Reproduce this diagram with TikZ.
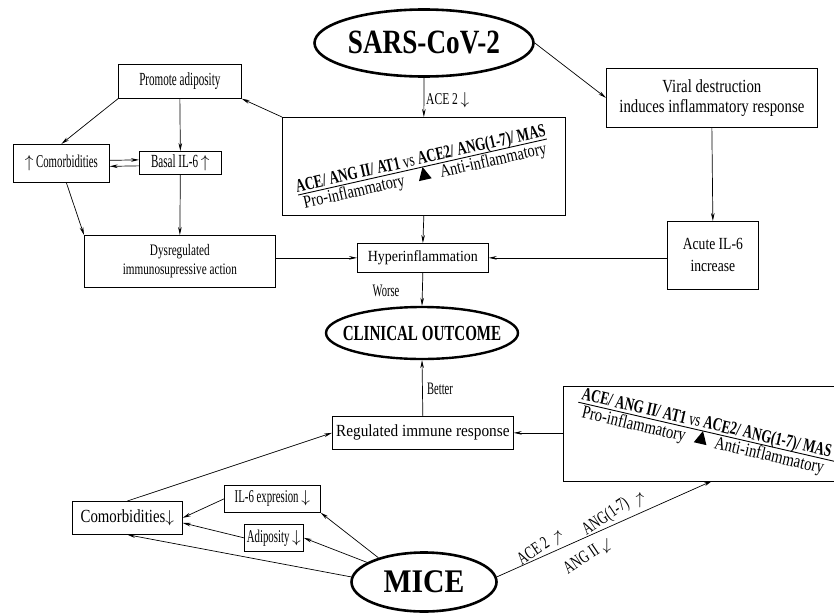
\documentclass[tikz,border=0pt]{standalone}
\usepackage{fontspec}
\setmainfont{Liberation Serif}
\newfontfamily\fsix[FakeStretch=0.6]{Liberation Serif}
\newfontfamily\fseven[FakeStretch=0.7]{Liberation Serif}
\newfontfamily\feight[FakeStretch=0.8]{Liberation Serif}
\newfontfamily\fnine[FakeStretch=0.9]{Liberation Serif}
\usetikzlibrary{shapes.geometric,arrows.meta}
\newcommand{\fz}[2]{\fontsize{#1pt}{#2pt}\selectfont}
\begin{document}
\begin{tikzpicture}[x=1pt,y=-1pt,
  box/.style={draw, line width=0.7pt, inner sep=1pt, align=center, anchor=north west},
  oval/.style={draw, ellipse, line width=2.6pt, inner sep=0pt},
  arr/.style={line width=0.7pt, -{Stealth[length=8pt,width=3.6pt]}},
  lab/.style={inner sep=0pt}]
\clip (0,0) rectangle (834,613);

% ---------- nodes ----------
\node[oval, minimum width=219pt, minimum height=67pt, font=\feight\bfseries\fz{34}{38}] (sars) at (424,43) {\makebox[0pt]{SARS-CoV-2}};
\node[box, minimum width=283pt, minimum height=98pt] (central) at (282,117) {};
\begin{scope}[shift={(422.5,167)}, rotate=12.7, transform shape]
  \draw[line width=0.9pt] (-127.5,0) -- (127.5,0);
  \fill (0,0) -- (-6.5,13) -- (6.5,13) -- cycle;
  \node[lab, anchor=base, font=\fseven\fz{18.5}{20}] (bal1) at (0,-3) {\textbf{ACE/ ANG II/ AT1} vs \textbf{ACE2/ ANG(1-7)/ MAS}};
  \node[lab, anchor=base west, font=\feight\fz{18}{20}] (pro1) at (-124,14.5) {Pro-inflammatory};
  \node[lab, anchor=base east, font=\feight\fz{18}{20}] (anti1) at (125,14.5) {Anti-inflammatory};
\end{scope}

\node[box, minimum width=123pt, minimum height=34pt, font=\fsix\fz{18.5}{20}] (promote) at (118,64) {Promote adiposity};
\node[box, minimum width=96pt, minimum height=38pt, font=\fsix\fz{18}{20}] (comorb) at (13,144) {$\uparrow$ Comorbidities};
\node[box, minimum width=82pt, minimum height=23pt, font=\fsix\fz{18.5}{20}] (basal) at (139,151) {Basal IL-6 $\uparrow$};
\node[box, minimum width=191pt, minimum height=52pt, font=\fseven\fz{16}{19}] (dysreg) at (84,235) {Dysregulated\\immunosupressive action};
\node[box, minimum width=211pt, minimum height=59pt, font=\feight\fz{18.5}{20}] (viral) at (606,68) {Viral destruction\\induces inflammatory response};
\node[box, minimum width=131pt, minimum height=29pt, font=\fnine\fz{15.5}{18}] (hyper) at (357,243) {Hyperinflammation};
\node[box, minimum width=91pt, minimum height=68pt, font=\feight\fz{17}{22}] (acute) at (667,221) {Acute IL-6\\increase};
\node[oval, line width=2.4pt, minimum width=192pt, minimum height=52pt, font=\fseven\bfseries\fz{21.5}{24}] (clin) at (422,333) {\makebox[0pt]{CLINICAL OUTCOME}};
\node[box, minimum width=181pt, minimum height=33pt, font=\fnine\fz{17}{19}] (reg) at (332,416) {Regulated immune response};

\node[box, minimum width=290pt, minimum height=95pt] (rbox) at (563,386) {};
\begin{scope}[shift={(703,431)}, rotate=-13, transform shape]
  \draw[line width=0.9pt] (-128,0) -- (200,0);
  \fill (0,0) -- (-6.5,13) -- (6.5,13) -- cycle;
  \node[lab, anchor=base west, font=\fseven\fz{18.5}{20}] (bal2) at (-126,-3) {\textbf{ACE/ ANG II/ AT1} vs \textbf{ACE2/ ANG(1-7)/ MAS}};
  \node[lab, anchor=base west, font=\feight\fz{18.5}{20}] (pro2) at (-122,14.5) {Pro-inflammatory};
  \node[lab, anchor=base west, font=\feight\fz{18.5}{20}] (anti2) at (14,14.5) {Anti-inflammatory};
\end{scope}

\node[box, minimum width=110pt, minimum height=33pt, font=\feight\fz{18.5}{20}] (comorb2) at (72,501) {Comorbidities$\downarrow$};
\node[box, minimum width=96pt, minimum height=27pt, font=\fsix\fz{18}{20}] (il6) at (224,485) {IL-6 expresion $\downarrow$};
\node[box, minimum width=59pt, minimum height=27pt, font=\fsix\fz{18}{20}] (adip) at (244,524) {Adiposity $\downarrow$};
\node[oval, minimum width=145pt, minimum height=59pt, font=\fnine\bfseries\fz{33}{36}] (mice) at (424,582) {\makebox[0pt]{MICE}};
\coordinate (rbtip) at (712,481);

% ---------- labels ----------
\node[lab, anchor=west, font=\fseven\fz{16.5}{18}] (acelab) at (426,100) {ACE 2\,$\downarrow$};
\node[lab, font=\fsix\fz{17.5}{19}] (worse) at (386,291) {Worse};
\node[lab, font=\fsix\fz{17.5}{19}] (better) at (440,389) {Better};
\node[lab, rotate=34, font=\fseven\fz{18}{20}] (l1) at (533,551) {ACE 2};
\node[lab, font=\fseven\fz{18}{20}] (l1a) at (558,538) {$\uparrow$};
\node[lab, rotate=34, font=\fseven\fz{18}{20}] (l2) at (606,517) {ANG(1-7)};
\node[lab, font=\fseven\fz{18}{20}] (l2a) at (640,500) {$\uparrow$};
\node[lab, rotate=34, font=\fseven\fz{18}{20}] (l3) at (581,559) {ANG II};
\node[lab, font=\fseven\fz{18}{20}] (l3a) at (607,546) {$\downarrow$};

% ---------- connectors ----------
\draw[arr] (sars.south) -- (central.north);
\draw[arr] (sars.east) -- (viral.west);
\draw[arr] (central.north west) -- (promote.south east);
\draw[arr] (promote.south west) -- (comorb.north);
\draw[arr] (promote.south) -- (basal.north);
\draw[arr] ([yshift=3pt]comorb.east) -- ([yshift=3pt]basal.west);
\draw[arr] ([yshift=-3pt]basal.west) -- ([yshift=-3pt]comorb.east);
\draw[arr] ([xshift=5pt]comorb.south) -- (dysreg.north west);
\draw[arr] (basal.south) -- (dysreg.north);
\draw[arr] (dysreg.east |- hyper.west) -- (hyper.west);
\draw[arr] (central.south) -- (hyper.north);
\draw[arr] (viral.south) -- (acute.north);
\draw[arr] (acute.west |- hyper.east) -- (hyper.east);
\draw[arr] (hyper.south) -- (clin.north);
\draw[arr] (reg.north) -- (clin.south);
\draw[arr] (rbox.west |- reg.east) -- (reg.east);
\draw[arr] (comorb2.north) -- (reg.west);
\draw[arr] (il6.west) -- (comorb2.east);
\draw[arr] (adip.west) -- ([yshift=-5pt]comorb2.east);
\draw[arr] (mice.152) -- (il6.south east);
\draw[arr] (mice.161) -- (adip.east);
\draw[arr] (mice.176) -- (comorb2.south);
\draw[arr] (mice.4) -- (rbtip);
\end{tikzpicture}
\end{document}
